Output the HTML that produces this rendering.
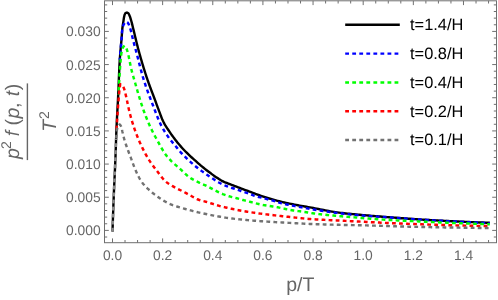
<!DOCTYPE html>
<html><head><meta charset="utf-8"><style>
html,body{margin:0;padding:0;background:#fff;}
svg{display:block;font-family:"Liberation Sans",sans-serif;text-rendering:geometricPrecision;will-change:transform;}
</style></head><body>
<svg width="498" height="300" viewBox="0 0 498 300">
<rect width="498" height="300" fill="#fff"/>
<rect x="104.5" y="0.8" width="392.0" height="241.89999999999998" fill="none" stroke="#6f6f6f" stroke-width="1"/>
<path d="M112.50,242.7 v-4.3 M112.50,0.8 v4.3 M125.03,242.7 v-2.7 M125.03,0.8 v2.7 M137.57,242.7 v-2.7 M137.57,0.8 v2.7 M150.11,242.7 v-2.7 M150.11,0.8 v2.7 M162.64,242.7 v-4.3 M162.64,0.8 v4.3 M175.18,242.7 v-2.7 M175.18,0.8 v2.7 M187.71,242.7 v-2.7 M187.71,0.8 v2.7 M200.25,242.7 v-2.7 M200.25,0.8 v2.7 M212.78,242.7 v-4.3 M212.78,0.8 v4.3 M225.31,242.7 v-2.7 M225.31,0.8 v2.7 M237.85,242.7 v-2.7 M237.85,0.8 v2.7 M250.38,242.7 v-2.7 M250.38,0.8 v2.7 M262.92,242.7 v-4.3 M262.92,0.8 v4.3 M275.45,242.7 v-2.7 M275.45,0.8 v2.7 M287.99,242.7 v-2.7 M287.99,0.8 v2.7 M300.52,242.7 v-2.7 M300.52,0.8 v2.7 M313.06,242.7 v-4.3 M313.06,0.8 v4.3 M325.60,242.7 v-2.7 M325.60,0.8 v2.7 M338.13,242.7 v-2.7 M338.13,0.8 v2.7 M350.66,242.7 v-2.7 M350.66,0.8 v2.7 M363.20,242.7 v-4.3 M363.20,0.8 v4.3 M375.74,242.7 v-2.7 M375.74,0.8 v2.7 M388.27,242.7 v-2.7 M388.27,0.8 v2.7 M400.81,242.7 v-2.7 M400.81,0.8 v2.7 M413.34,242.7 v-4.3 M413.34,0.8 v4.3 M425.88,242.7 v-2.7 M425.88,0.8 v2.7 M438.41,242.7 v-2.7 M438.41,0.8 v2.7 M450.94,242.7 v-2.7 M450.94,0.8 v2.7 M463.48,242.7 v-4.3 M463.48,0.8 v4.3 M476.02,242.7 v-2.7 M476.02,0.8 v2.7 M488.55,242.7 v-2.7 M488.55,0.8 v2.7 M104.5,237.03 h2.7 M496.5,237.03 h-2.7 M104.5,230.40 h4.3 M496.5,230.40 h-4.3 M104.5,223.77 h2.7 M496.5,223.77 h-2.7 M104.5,217.13 h2.7 M496.5,217.13 h-2.7 M104.5,210.50 h2.7 M496.5,210.50 h-2.7 M104.5,203.87 h2.7 M496.5,203.87 h-2.7 M104.5,197.24 h4.3 M496.5,197.24 h-4.3 M104.5,190.60 h2.7 M496.5,190.60 h-2.7 M104.5,183.97 h2.7 M496.5,183.97 h-2.7 M104.5,177.34 h2.7 M496.5,177.34 h-2.7 M104.5,170.70 h2.7 M496.5,170.70 h-2.7 M104.5,164.07 h4.3 M496.5,164.07 h-4.3 M104.5,157.44 h2.7 M496.5,157.44 h-2.7 M104.5,150.80 h2.7 M496.5,150.80 h-2.7 M104.5,144.17 h2.7 M496.5,144.17 h-2.7 M104.5,137.54 h2.7 M496.5,137.54 h-2.7 M104.5,130.91 h4.3 M496.5,130.91 h-4.3 M104.5,124.27 h2.7 M496.5,124.27 h-2.7 M104.5,117.64 h2.7 M496.5,117.64 h-2.7 M104.5,111.01 h2.7 M496.5,111.01 h-2.7 M104.5,104.37 h2.7 M496.5,104.37 h-2.7 M104.5,97.74 h4.3 M496.5,97.74 h-4.3 M104.5,91.11 h2.7 M496.5,91.11 h-2.7 M104.5,84.47 h2.7 M496.5,84.47 h-2.7 M104.5,77.84 h2.7 M496.5,77.84 h-2.7 M104.5,71.21 h2.7 M496.5,71.21 h-2.7 M104.5,64.57 h4.3 M496.5,64.57 h-4.3 M104.5,57.94 h2.7 M496.5,57.94 h-2.7 M104.5,51.31 h2.7 M496.5,51.31 h-2.7 M104.5,44.68 h2.7 M496.5,44.68 h-2.7 M104.5,38.04 h2.7 M496.5,38.04 h-2.7 M104.5,31.41 h4.3 M496.5,31.41 h-4.3 M104.5,24.78 h2.7 M496.5,24.78 h-2.7 M104.5,18.14 h2.7 M496.5,18.14 h-2.7 M104.5,11.51 h2.7 M496.5,11.51 h-2.7 M104.5,4.88 h2.7 M496.5,4.88 h-2.7" fill="none" stroke="#6f6f6f" stroke-width="1"/>
<path d="M112.50,231.60 L112.55,229.86 L112.61,228.13 L112.67,226.39 L112.72,224.65 L112.78,222.91 L112.84,221.18 L112.90,219.44 L112.96,217.70 L113.02,215.97 L113.08,214.23 L113.14,212.49 L113.20,210.75 L113.27,209.02 L113.33,207.28 L113.39,205.54 L113.46,203.81 L113.53,202.07 L113.59,200.33 L113.66,198.60 L113.73,196.86 L113.80,195.12 L113.86,193.39 L113.94,191.65 L114.01,189.91 L114.09,188.18 L114.16,186.44 L114.24,184.71 L114.32,182.97 L114.40,181.23 L114.48,179.50 L114.56,177.76 L114.65,176.02 L114.73,174.29 L114.81,172.55 L114.89,170.82 L114.97,169.08 L115.05,167.34 L115.12,165.61 L115.20,163.87 L115.27,162.13 L115.34,160.40 L115.41,158.66 L115.48,156.92 L115.54,155.19 L115.61,153.45 L115.67,151.71 L115.73,149.98 L115.78,148.24 L115.84,146.50 L115.90,144.76 L115.96,143.03 L116.01,141.29 L116.07,139.55 L116.13,137.82 L116.19,136.08 L116.25,134.34 L116.32,132.61 L116.38,130.87 L116.45,129.13 L116.53,127.40 L116.60,125.66 L116.68,123.92 L116.76,122.19 L116.85,120.45 L116.94,118.72 L117.03,116.98 L117.12,115.24 L117.22,113.51 L117.31,111.77 L117.41,110.04 L117.50,108.30 L117.60,106.57 L117.69,104.83 L117.79,103.10 L117.88,101.36 L117.97,99.62 L118.06,97.89 L118.14,96.15 L118.23,94.42 L118.31,92.68 L118.38,90.94 L118.46,89.21 L118.53,87.47 L118.60,85.73 L118.67,84.00 L118.74,82.26 L118.80,80.52 L118.87,78.79 L118.94,77.05 L119.01,75.31 L119.08,73.57 L119.16,71.84 L119.23,70.10 L119.31,68.37 L119.40,66.63 L119.48,64.89 L119.58,63.16 L119.68,61.43 L119.78,59.69 L119.90,57.96 L120.03,56.23 L120.16,54.49 L120.31,52.76 L120.46,51.03 L120.61,49.30 L120.77,47.57 L120.93,45.84 L121.09,44.10 L121.25,42.37 L121.40,40.64 L121.55,38.91 L121.69,37.18 L121.81,35.44 L121.93,33.71 L122.05,31.97 L122.19,30.24 L122.35,28.51 L122.56,26.79 L122.81,25.07 L123.08,23.35 L123.36,21.63 L123.61,19.89 L123.86,18.14 L124.18,16.43 L124.60,14.79 L125.41,13.17 L126.92,12.50 L128.39,13.30 L129.24,14.88 L129.89,16.47 L130.45,18.13 L130.95,19.80 L131.44,21.48 L131.88,23.15 L132.30,24.84 L132.71,26.53 L133.11,28.23 L133.53,29.91 L133.94,31.60 L134.35,33.29 L134.76,34.98 L135.16,36.67 L135.57,38.36 L135.98,40.05 L136.39,41.74 L136.81,43.43 L137.23,45.11 L137.66,46.80 L138.09,48.48 L138.54,50.16 L139.00,51.83 L139.46,53.51 L139.93,55.18 L140.40,56.86 L140.88,58.53 L141.36,60.20 L141.85,61.87 L142.34,63.53 L142.84,65.20 L143.35,66.86 L143.86,68.53 L144.38,70.19 L144.90,71.84 L145.43,73.50 L145.96,75.15 L146.50,76.80 L147.05,78.45 L147.61,80.10 L148.18,81.73 L148.77,83.37 L149.36,85.00 L149.96,86.63 L150.57,88.26 L151.18,89.89 L151.80,91.52 L152.42,93.14 L153.04,94.77 L153.65,96.39 L154.26,98.02 L154.87,99.65 L155.47,101.28 L156.07,102.91 L156.67,104.55 L157.26,106.18 L157.87,107.81 L158.48,109.43 L159.10,111.06 L159.71,112.69 L160.32,114.33 L160.93,115.97 L161.56,117.59 L162.22,119.20 L162.92,120.78 L163.66,122.33 L164.48,123.85 L165.35,125.35 L166.27,126.83 L167.22,128.30 L168.19,129.75 L169.16,131.20 L170.13,132.64 L171.12,134.07 L172.13,135.48 L173.16,136.89 L174.19,138.29 L175.25,139.67 L176.31,141.04 L177.39,142.41 L178.49,143.75 L179.61,145.08 L180.75,146.39 L181.91,147.69 L183.08,148.97 L184.28,150.23 L185.49,151.49 L186.71,152.72 L187.94,153.95 L189.19,155.15 L190.46,156.33 L191.75,157.50 L193.05,158.66 L194.35,159.82 L195.64,160.98 L196.94,162.14 L198.24,163.29 L199.54,164.44 L200.86,165.58 L202.19,166.69 L203.54,167.79 L204.90,168.87 L206.27,169.93 L207.66,170.99 L209.04,172.03 L210.43,173.08 L211.83,174.12 L213.23,175.15 L214.64,176.16 L216.07,177.15 L217.52,178.12 L218.98,179.08 L220.46,180.00 L221.97,180.83 L223.51,181.59 L225.09,182.30 L226.68,182.97 L228.30,183.62 L229.93,184.24 L231.56,184.84 L233.21,185.44 L234.85,186.04 L236.48,186.65 L238.11,187.27 L239.73,187.89 L241.35,188.52 L242.98,189.14 L244.60,189.76 L246.22,190.38 L247.85,190.99 L249.48,191.60 L251.11,192.21 L252.73,192.83 L254.36,193.44 L255.99,194.06 L257.62,194.66 L259.25,195.25 L260.89,195.82 L262.54,196.38 L264.19,196.92 L265.84,197.45 L267.50,197.97 L269.17,198.48 L270.83,198.97 L272.50,199.45 L274.18,199.92 L275.85,200.38 L277.53,200.82 L279.22,201.26 L280.90,201.68 L282.59,202.09 L284.28,202.49 L285.98,202.87 L287.68,203.24 L289.38,203.60 L291.08,203.94 L292.79,204.27 L294.49,204.60 L296.20,204.93 L297.91,205.25 L299.62,205.56 L301.33,205.87 L303.04,206.18 L304.75,206.48 L306.47,206.78 L308.18,207.08 L309.89,207.38 L311.60,207.69 L313.31,208.01 L315.02,208.34 L316.72,208.68 L318.43,209.02 L320.14,209.36 L321.84,209.69 L323.55,210.03 L325.26,210.36 L326.97,210.69 L328.68,211.01 L330.39,211.31 L332.10,211.61 L333.81,211.89 L335.53,212.15 L337.24,212.40 L338.96,212.63 L340.69,212.84 L342.41,213.05 L344.14,213.25 L345.86,213.44 L347.59,213.62 L349.32,213.80 L351.05,213.97 L352.78,214.14 L354.51,214.31 L356.25,214.47 L357.98,214.63 L359.71,214.79 L361.44,214.95 L363.17,215.11 L364.90,215.26 L366.63,215.42 L368.36,215.57 L370.10,215.72 L371.83,215.86 L373.56,216.00 L375.29,216.15 L377.03,216.29 L378.76,216.43 L380.49,216.56 L382.22,216.70 L383.96,216.84 L385.69,216.98 L387.42,217.11 L389.15,217.25 L390.89,217.39 L392.62,217.52 L394.35,217.66 L396.09,217.79 L397.82,217.92 L399.55,218.05 L401.28,218.18 L403.02,218.31 L404.75,218.44 L406.49,218.56 L408.22,218.68 L409.95,218.80 L411.69,218.91 L413.42,219.03 L415.16,219.14 L416.89,219.25 L418.62,219.36 L420.36,219.47 L422.09,219.58 L423.83,219.69 L425.56,219.80 L427.30,219.90 L429.03,220.01 L430.77,220.11 L432.50,220.21 L434.24,220.31 L435.97,220.41 L437.71,220.51 L439.45,220.60 L441.18,220.70 L442.92,220.79 L444.65,220.88 L446.39,220.97 L448.12,221.06 L449.86,221.14 L451.60,221.23 L453.33,221.31 L455.07,221.39 L456.80,221.47 L458.54,221.55 L460.28,221.63 L462.01,221.71 L463.75,221.79 L465.48,221.86 L467.22,221.94 L468.96,222.01 L470.69,222.09 L472.43,222.16 L474.17,222.23 L475.90,222.30 L477.64,222.36 L479.38,222.43 L481.11,222.50 L482.85,222.56 L484.59,222.62 L486.33,222.68 L488.06,222.74 L489.80,222.80" fill="none" stroke="#000000" stroke-width="2.4" stroke-linejoin="round"/>
<path d="M119.77,59.85 L119.88,58.16 L120.01,56.46 L120.14,54.76 L120.28,53.07 L120.43,51.37 L120.58,49.67 L120.73,47.98 L120.89,46.28 L121.05,44.59 L121.20,42.89 L121.35,41.20 L121.50,39.50 L121.64,37.80 L121.76,36.11 L121.87,34.39 L121.97,32.68 L122.09,30.98 L122.26,29.31 L122.56,27.63 L123.08,25.94 L123.78,24.35 L124.64,22.97 L126.00,21.76 L127.43,22.36 L128.46,23.72 L129.15,25.32 L129.72,26.92 L130.24,28.53 L130.71,30.16 L131.14,31.80 L131.55,33.46 L131.94,35.12 L132.33,36.79 L132.72,38.46 L133.12,40.12 L133.54,41.77 L133.98,43.42 L134.42,45.06 L134.87,46.70 L135.31,48.35 L135.76,49.99 L136.20,51.63 L136.64,53.28 L137.07,54.92 L137.50,56.57 L137.92,58.22 L138.34,59.88 L138.76,61.53 L139.18,63.18 L139.60,64.83 L140.02,66.48 L140.45,68.13 L140.88,69.78 L141.33,71.42 L141.77,73.06 L142.23,74.70 L142.70,76.33 L143.18,77.96 L143.68,79.58 L144.19,81.20 L144.71,82.82 L145.25,84.43 L145.79,86.04 L146.35,87.65 L146.92,89.26 L147.49,90.86 L148.07,92.46 L148.66,94.06 L149.26,95.66 L149.86,97.25 L150.46,98.84 L151.07,100.44 L151.69,102.03 L152.30,103.62 L152.92,105.20 L153.53,106.79 L154.15,108.38 L154.76,109.97 L155.36,111.56 L155.97,113.16 L156.59,114.75 L157.21,116.34 L157.85,117.93 L158.50,119.50 L159.17,121.07 L159.86,122.62 L160.58,124.15 L161.33,125.66 L162.12,127.16 L162.95,128.64 L163.82,130.12 L164.71,131.58 L165.62,133.02 L166.56,134.45 L167.51,135.86 L168.48,137.25 L169.48,138.62 L170.52,139.97 L171.59,141.29 L172.68,142.61 L173.77,143.92 L174.86,145.23 L175.94,146.54 L177.01,147.87 L178.09,149.20 L179.17,150.51 L180.28,151.80 L181.42,153.05 L182.59,154.28 L183.77,155.50 L184.97,156.71 L186.19,157.91 L187.42,159.09 L188.67,160.26 L189.92,161.42 L191.19,162.56 L192.47,163.68 L193.76,164.79 L195.06,165.88 L196.37,166.96 L197.70,168.02 L199.04,169.06 L200.40,170.09 L201.77,171.11 L203.15,172.11 L204.54,173.10 L205.94,174.08 L207.34,175.05 L208.75,176.00 L210.16,176.95 L211.58,177.90 L213.00,178.84 L214.43,179.78 L215.87,180.70 L217.33,181.60 L218.80,182.46 L220.28,183.28 L221.79,184.05 L223.32,184.76 L224.88,185.44 L226.47,186.07 L228.07,186.67 L229.67,187.23 L231.29,187.75 L232.93,188.23 L234.56,188.73 L236.17,189.26 L237.77,189.84 L239.37,190.44 L240.96,191.04 L242.57,191.59 L244.19,192.10 L245.82,192.60 L247.45,193.11 L249.05,193.67 L250.64,194.30 L252.22,194.94 L253.80,195.56 L255.41,196.10 L257.05,196.56 L258.70,196.98 L260.35,197.38 L262.00,197.80 L263.65,198.24 L265.29,198.69 L266.93,199.13 L268.58,199.57 L270.23,199.99 L271.88,200.40 L273.53,200.82 L275.17,201.26 L276.80,201.76 L278.42,202.31 L280.03,202.84 L281.67,203.30 L283.32,203.71 L284.97,204.10 L286.63,204.46 L288.30,204.82 L289.97,205.16 L291.64,205.49 L293.31,205.82 L294.99,206.14 L296.66,206.47 L298.33,206.78 L300.00,207.09 L301.68,207.40 L303.35,207.70 L305.03,207.99 L306.70,208.29 L308.38,208.59 L310.05,208.89 L311.73,209.20 L313.40,209.50 L315.08,209.78 L316.76,210.04 L318.45,210.31 L320.13,210.57 L321.81,210.82 L323.50,211.07 L325.18,211.31 L326.87,211.55 L328.55,211.78 L330.24,212.01 L331.93,212.24 L333.62,212.46 L335.30,212.67 L336.99,212.88 L338.68,213.08 L340.37,213.28 L342.06,213.48 L343.75,213.67 L345.44,213.86 L347.14,214.05 L348.83,214.23 L350.52,214.41 L352.22,214.59 L353.91,214.76 L355.60,214.92 L357.30,215.08 L358.99,215.24 L360.69,215.39 L362.38,215.53 L364.08,215.67 L365.78,215.80 L367.47,215.93 L369.17,216.06 L370.87,216.18 L372.57,216.29 L374.26,216.41 L375.96,216.52 L377.66,216.63 L379.36,216.75 L381.06,216.86 L382.76,216.98 L384.46,217.09 L386.15,217.21 L387.85,217.33 L389.55,217.45 L391.25,217.58 L392.94,217.70 L394.64,217.82 L396.34,217.95 L398.04,218.07 L399.73,218.19 L401.43,218.31 L403.13,218.43 L404.83,218.55 L406.53,218.67 L408.22,218.78 L409.92,218.89 L411.62,219.00 L413.32,219.11 L415.02,219.22 L416.72,219.33 L418.41,219.43 L420.11,219.54 L421.81,219.64 L423.51,219.75 L425.21,219.85 L426.91,219.95 L428.61,220.05 L430.31,220.15 L432.01,220.25 L433.71,220.35 L435.41,220.45 L437.10,220.54 L438.80,220.64 L440.50,220.74 L442.20,220.83 L443.90,220.92 L445.60,221.02 L447.30,221.11 L449.00,221.20 L450.70,221.29 L452.40,221.38 L454.10,221.47 L455.80,221.56 L457.50,221.65 L459.20,221.74 L460.90,221.82 L462.60,221.91 L464.30,222.00 L466.00,222.08 L467.70,222.17 L469.40,222.25 L471.10,222.33 L472.80,222.41 L474.50,222.50 L476.20,222.58 L477.90,222.66 L479.60,222.74 L481.30,222.82 L483.00,222.89 L484.70,222.97 L486.40,223.05 L488.10,223.12 L489.80,223.20" fill="none" stroke="#0000ff" stroke-width="2.45" stroke-linejoin="round" stroke-dasharray="3.8 3.25" stroke-dashoffset="1.70"/>
<path d="M118.43,94.53 L118.52,92.92 L118.62,91.31 L118.71,89.70 L118.81,88.09 L118.90,86.48 L118.99,84.86 L119.08,83.25 L119.18,81.64 L119.27,80.03 L119.37,78.42 L119.47,76.81 L119.57,75.19 L119.67,73.58 L119.77,71.97 L119.88,70.36 L119.99,68.75 L120.11,67.14 L120.23,65.53 L120.36,63.93 L120.49,62.32 L120.62,60.71 L120.76,59.10 L120.91,57.48 L121.07,55.87 L121.26,54.27 L121.49,52.68 L121.77,51.09 L122.16,49.47 L122.70,47.94 L123.51,46.50 L124.69,45.75 L125.77,47.08 L126.48,48.52 L127.03,50.06 L127.50,51.63 L127.92,53.18 L128.31,54.74 L128.67,56.31 L129.01,57.89 L129.33,59.47 L129.64,61.06 L129.95,62.65 L130.25,64.24 L130.57,65.83 L130.90,67.41 L131.26,68.98 L131.64,70.55 L132.04,72.11 L132.47,73.67 L132.91,75.22 L133.36,76.77 L133.81,78.32 L134.26,79.87 L134.71,81.42 L135.16,82.98 L135.60,84.53 L136.05,86.08 L136.49,87.64 L136.94,89.19 L137.38,90.74 L137.83,92.30 L138.29,93.85 L138.75,95.40 L139.21,96.94 L139.68,98.49 L140.15,100.03 L140.63,101.57 L141.12,103.11 L141.62,104.64 L142.13,106.17 L142.65,107.70 L143.18,109.22 L143.72,110.73 L144.27,112.25 L144.83,113.76 L145.41,115.27 L146.00,116.78 L146.60,118.28 L147.21,119.78 L147.83,121.27 L148.46,122.76 L149.11,124.24 L149.76,125.72 L150.42,127.18 L151.10,128.64 L151.80,130.09 L152.52,131.54 L153.26,132.97 L154.02,134.40 L154.79,135.82 L155.57,137.24 L156.35,138.65 L157.14,140.06 L157.92,141.48 L158.69,142.90 L159.47,144.33 L160.25,145.75 L161.04,147.17 L161.84,148.58 L162.66,149.98 L163.50,151.36 L164.36,152.72 L165.26,154.05 L166.18,155.34 L167.16,156.61 L168.21,157.84 L169.30,159.04 L170.42,160.21 L171.56,161.36 L172.72,162.47 L173.91,163.55 L175.13,164.62 L176.36,165.67 L177.59,166.72 L178.82,167.77 L180.03,168.83 L181.23,169.92 L182.41,171.05 L183.58,172.18 L184.75,173.31 L185.94,174.42 L187.14,175.50 L188.38,176.52 L189.65,177.46 L190.98,178.33 L192.37,179.14 L193.79,179.91 L195.25,180.64 L196.71,181.36 L198.16,182.08 L199.61,182.78 L201.08,183.45 L202.55,184.12 L204.02,184.78 L205.49,185.46 L206.94,186.16 L208.39,186.88 L209.82,187.63 L211.25,188.39 L212.68,189.15 L214.11,189.91 L215.54,190.67 L216.98,191.41 L218.42,192.14 L219.88,192.83 L221.34,193.49 L222.82,194.11 L224.32,194.69 L225.84,195.23 L227.38,195.73 L228.92,196.21 L230.47,196.66 L232.03,197.08 L233.60,197.47 L235.17,197.85 L236.73,198.25 L238.28,198.69 L239.83,199.14 L241.38,199.59 L242.94,200.03 L244.50,200.44 L246.06,200.84 L247.63,201.23 L249.19,201.62 L250.76,202.02 L252.32,202.43 L253.88,202.84 L255.44,203.24 L257.01,203.63 L258.58,204.00 L260.15,204.38 L261.73,204.73 L263.31,205.05 L264.90,205.32 L266.49,205.56 L268.09,205.79 L269.69,206.02 L271.29,206.27 L272.88,206.51 L274.48,206.76 L276.07,207.02 L277.66,207.30 L279.24,207.61 L280.82,207.95 L282.40,208.30 L283.98,208.66 L285.55,209.01 L287.13,209.36 L288.71,209.68 L290.29,209.98 L291.88,210.24 L293.48,210.48 L295.08,210.70 L296.68,210.91 L298.28,211.11 L299.88,211.31 L301.49,211.52 L303.09,211.74 L304.68,211.97 L306.28,212.23 L307.87,212.51 L309.46,212.78 L311.05,213.06 L312.64,213.31 L314.24,213.53 L315.84,213.74 L317.44,213.93 L319.04,214.12 L320.65,214.30 L322.25,214.48 L323.86,214.65 L325.46,214.81 L327.07,214.97 L328.68,215.13 L330.28,215.28 L331.89,215.43 L333.50,215.58 L335.11,215.73 L336.72,215.88 L338.32,216.03 L339.93,216.18 L341.54,216.32 L343.15,216.46 L344.75,216.60 L346.36,216.74 L347.97,216.87 L349.58,217.01 L351.19,217.14 L352.80,217.27 L354.41,217.40 L356.01,217.53 L357.62,217.65 L359.23,217.78 L360.84,217.91 L362.45,218.04 L364.06,218.16 L365.67,218.29 L367.28,218.42 L368.89,218.55 L370.50,218.68 L372.11,218.81 L373.71,218.93 L375.32,219.06 L376.93,219.18 L378.54,219.30 L380.15,219.42 L381.76,219.53 L383.37,219.64 L384.98,219.74 L386.60,219.84 L388.21,219.93 L389.82,220.02 L391.43,220.11 L393.04,220.19 L394.65,220.27 L396.27,220.35 L397.88,220.43 L399.49,220.51 L401.10,220.58 L402.72,220.66 L404.33,220.73 L405.94,220.81 L407.55,220.88 L409.16,220.96 L410.78,221.04 L412.39,221.12 L414.00,221.19 L415.61,221.27 L417.23,221.35 L418.84,221.43 L420.45,221.50 L422.06,221.58 L423.68,221.66 L425.29,221.74 L426.90,221.81 L428.51,221.89 L430.12,221.96 L431.74,222.04 L433.35,222.11 L434.96,222.19 L436.57,222.26 L438.19,222.33 L439.80,222.41 L441.41,222.48 L443.02,222.55 L444.64,222.62 L446.25,222.69 L447.86,222.75 L449.47,222.82 L451.09,222.89 L452.70,222.95 L454.31,223.02 L455.93,223.08 L457.54,223.14 L459.15,223.21 L460.76,223.27 L462.38,223.33 L463.99,223.39 L465.60,223.45 L467.22,223.51 L468.83,223.57 L470.44,223.63 L472.05,223.69 L473.67,223.75 L475.28,223.81 L476.89,223.87 L478.51,223.92 L480.12,223.98 L481.73,224.03 L483.35,224.09 L484.96,224.14 L486.57,224.20 L488.19,224.25 L489.80,224.30" fill="none" stroke="#00ff00" stroke-width="2.45" stroke-linejoin="round" stroke-dasharray="3.8 3.25" stroke-dashoffset="3.25"/>
<path d="M116.53,131.52 L116.60,130.05 L116.67,128.58 L116.75,127.11 L116.82,125.64 L116.90,124.17 L116.99,122.70 L117.07,121.23 L117.16,119.76 L117.25,118.29 L117.34,116.82 L117.44,115.35 L117.54,113.88 L117.63,112.41 L117.74,110.94 L117.84,109.47 L117.94,108.00 L118.05,106.53 L118.16,105.06 L118.27,103.59 L118.39,102.13 L118.51,100.66 L118.63,99.19 L118.76,97.72 L118.89,96.25 L119.02,94.79 L119.15,93.32 L119.27,91.85 L119.41,90.38 L119.58,88.92 L119.78,87.40 L120.01,85.53 L120.37,84.27 L121.35,84.60 L122.56,85.61 L123.32,86.87 L123.92,88.28 L124.40,89.65 L124.81,91.06 L125.18,92.49 L125.52,93.94 L125.85,95.38 L126.19,96.82 L126.52,98.25 L126.82,99.69 L127.12,101.14 L127.41,102.58 L127.70,104.03 L128.00,105.47 L128.30,106.91 L128.61,108.35 L128.95,109.78 L129.30,111.21 L129.66,112.64 L130.03,114.07 L130.40,115.49 L130.79,116.92 L131.19,118.34 L131.60,119.75 L132.01,121.17 L132.44,122.58 L132.88,123.98 L133.32,125.38 L133.78,126.78 L134.25,128.18 L134.74,129.57 L135.23,130.96 L135.74,132.34 L136.26,133.73 L136.80,135.10 L137.34,136.47 L137.89,137.84 L138.46,139.19 L139.03,140.54 L139.62,141.89 L140.22,143.24 L140.83,144.58 L141.45,145.92 L142.09,147.26 L142.74,148.59 L143.40,149.91 L144.07,151.23 L144.76,152.53 L145.45,153.83 L146.17,155.12 L146.89,156.40 L147.62,157.67 L148.38,158.92 L149.15,160.16 L149.96,161.39 L150.79,162.61 L151.63,163.82 L152.50,165.02 L153.37,166.21 L154.26,167.40 L155.15,168.57 L156.05,169.74 L156.94,170.91 L157.83,172.10 L158.72,173.30 L159.62,174.50 L160.53,175.70 L161.45,176.88 L162.39,178.02 L163.36,179.13 L164.36,180.20 L165.39,181.20 L166.46,182.14 L167.60,183.01 L168.79,183.85 L170.04,184.64 L171.32,185.40 L172.62,186.14 L173.93,186.87 L175.23,187.58 L176.52,188.29 L177.83,188.96 L179.15,189.62 L180.48,190.26 L181.81,190.90 L183.13,191.55 L184.43,192.23 L185.73,192.93 L187.02,193.65 L188.30,194.37 L189.59,195.08 L190.89,195.79 L192.17,196.52 L193.46,197.27 L194.75,197.99 L196.06,198.66 L197.39,199.26 L198.75,199.77 L200.15,200.21 L201.57,200.61 L203.00,200.99 L204.43,201.36 L205.86,201.76 L207.27,202.18 L208.68,202.61 L210.09,203.05 L211.49,203.50 L212.90,203.95 L214.30,204.39 L215.71,204.83 L217.12,205.26 L218.53,205.67 L219.95,206.07 L221.37,206.44 L222.80,206.79 L224.22,207.14 L225.66,207.47 L227.09,207.80 L228.53,208.13 L229.97,208.44 L231.41,208.76 L232.85,209.06 L234.30,209.36 L235.74,209.65 L237.19,209.94 L238.64,210.22 L240.09,210.49 L241.54,210.75 L242.99,211.01 L244.44,211.26 L245.90,211.50 L247.35,211.74 L248.80,211.97 L250.25,212.19 L251.71,212.41 L253.16,212.62 L254.62,212.83 L256.08,213.04 L257.54,213.24 L258.99,213.43 L260.45,213.62 L261.92,213.81 L263.38,214.00 L264.84,214.18 L266.30,214.36 L267.76,214.54 L269.23,214.71 L270.69,214.88 L272.16,215.05 L273.62,215.22 L275.09,215.39 L276.55,215.55 L278.02,215.71 L279.48,215.87 L280.95,216.03 L282.41,216.19 L283.88,216.35 L285.34,216.50 L286.81,216.66 L288.27,216.82 L289.74,216.97 L291.20,217.13 L292.67,217.29 L294.13,217.44 L295.60,217.60 L297.06,217.76 L298.53,217.91 L299.99,218.07 L301.46,218.22 L302.92,218.36 L304.39,218.51 L305.86,218.65 L307.32,218.78 L308.79,218.91 L310.26,219.03 L311.73,219.14 L313.20,219.25 L314.66,219.34 L316.13,219.43 L317.60,219.52 L319.07,219.60 L320.54,219.68 L322.01,219.76 L323.49,219.83 L324.96,219.90 L326.43,219.97 L327.90,220.03 L329.37,220.10 L330.84,220.17 L332.32,220.23 L333.79,220.30 L335.26,220.37 L336.73,220.44 L338.20,220.51 L339.67,220.58 L341.14,220.66 L342.62,220.73 L344.09,220.80 L345.56,220.88 L347.03,220.95 L348.50,221.03 L349.97,221.10 L351.44,221.17 L352.91,221.25 L354.38,221.32 L355.86,221.39 L357.33,221.47 L358.80,221.54 L360.27,221.61 L361.74,221.69 L363.21,221.76 L364.68,221.84 L366.15,221.91 L367.62,221.99 L369.09,222.06 L370.57,222.14 L372.04,222.21 L373.51,222.29 L374.98,222.36 L376.45,222.44 L377.92,222.51 L379.39,222.59 L380.86,222.66 L382.33,222.73 L383.81,222.80 L385.28,222.87 L386.75,222.93 L388.22,223.00 L389.69,223.07 L391.16,223.13 L392.63,223.20 L394.11,223.26 L395.58,223.32 L397.05,223.38 L398.52,223.45 L399.99,223.51 L401.46,223.57 L402.94,223.63 L404.41,223.68 L405.88,223.74 L407.35,223.80 L408.82,223.86 L410.29,223.91 L411.77,223.97 L413.24,224.02 L414.71,224.08 L416.18,224.13 L417.65,224.18 L419.13,224.24 L420.60,224.29 L422.07,224.34 L423.54,224.40 L425.01,224.45 L426.49,224.50 L427.96,224.55 L429.43,224.60 L430.90,224.65 L432.37,224.70 L433.85,224.75 L435.32,224.80 L436.79,224.84 L438.26,224.89 L439.74,224.93 L441.21,224.98 L442.68,225.02 L444.15,225.07 L445.62,225.11 L447.10,225.15 L448.57,225.19 L450.04,225.23 L451.51,225.27 L452.99,225.30 L454.46,225.34 L455.93,225.38 L457.40,225.42 L458.88,225.45 L460.35,225.49 L461.82,225.53 L463.29,225.56 L464.77,225.60 L466.24,225.63 L467.71,225.66 L469.18,225.70 L470.66,225.73 L472.13,225.76 L473.60,225.79 L475.07,225.83 L476.55,225.86 L478.02,225.89 L479.49,225.91 L480.96,225.94 L482.44,225.97 L483.91,226.00 L485.38,226.02 L486.85,226.05 L488.33,226.08 L489.80,226.10" fill="none" stroke="#ff0000" stroke-width="2.45" stroke-linejoin="round" stroke-dasharray="3.8 3.25" stroke-dashoffset="4.96"/>
<path d="M116.16,139.03 L116.23,137.71 L116.31,136.39 L116.40,135.07 L116.50,133.75 L116.62,132.43 L116.78,131.10 L116.97,129.79 L117.20,128.51 L117.52,127.18 L118.00,125.92 L118.78,124.86 L119.87,124.49 L120.76,125.63 L121.25,126.77 L121.62,128.01 L121.92,129.33 L122.19,130.68 L122.48,132.01 L122.80,133.29 L123.12,134.58 L123.43,135.87 L123.74,137.15 L124.07,138.44 L124.42,139.71 L124.79,140.98 L125.18,142.24 L125.59,143.50 L126.01,144.75 L126.44,146.00 L126.89,147.25 L127.34,148.49 L127.80,149.73 L128.27,150.98 L128.73,152.22 L129.20,153.46 L129.67,154.70 L130.14,155.93 L130.60,157.17 L131.06,158.42 L131.51,159.66 L131.97,160.91 L132.42,162.15 L132.88,163.40 L133.35,164.64 L133.82,165.88 L134.30,167.12 L134.79,168.34 L135.30,169.57 L135.82,170.78 L136.35,171.98 L136.91,173.18 L137.48,174.38 L138.06,175.59 L138.67,176.78 L139.30,177.97 L139.95,179.13 L140.63,180.25 L141.34,181.35 L142.09,182.39 L142.88,183.42 L143.71,184.43 L144.58,185.43 L145.48,186.40 L146.41,187.36 L147.37,188.31 L148.35,189.23 L149.35,190.14 L150.36,191.02 L151.38,191.89 L152.41,192.73 L153.43,193.56 L154.46,194.36 L155.50,195.16 L156.56,195.95 L157.63,196.73 L158.72,197.51 L159.82,198.27 L160.94,199.01 L162.07,199.74 L163.21,200.45 L164.36,201.13 L165.52,201.78 L166.68,202.41 L167.86,203.01 L169.04,203.57 L170.23,204.10 L171.43,204.59 L172.65,205.07 L173.89,205.52 L175.15,205.95 L176.41,206.36 L177.68,206.76 L178.96,207.14 L180.24,207.52 L181.52,207.89 L182.80,208.26 L184.07,208.62 L185.34,208.98 L186.62,209.34 L187.89,209.69 L189.17,210.04 L190.45,210.38 L191.73,210.71 L193.01,211.04 L194.30,211.37 L195.58,211.68 L196.87,212.00 L198.16,212.30 L199.45,212.60 L200.74,212.89 L202.03,213.18 L203.32,213.46 L204.62,213.73 L205.91,214.00 L207.21,214.27 L208.50,214.54 L209.80,214.80 L211.10,215.06 L212.40,215.32 L213.70,215.58 L215.00,215.83 L216.30,216.08 L217.61,216.32 L218.91,216.55 L220.22,216.78 L221.52,217.01 L222.83,217.23 L224.14,217.44 L225.44,217.64 L226.75,217.83 L228.06,218.02 L229.37,218.19 L230.68,218.36 L231.99,218.52 L233.30,218.67 L234.61,218.82 L235.93,218.97 L237.24,219.11 L238.56,219.25 L239.87,219.39 L241.19,219.52 L242.51,219.65 L243.82,219.78 L245.14,219.90 L246.46,220.02 L247.78,220.14 L249.10,220.25 L250.42,220.36 L251.74,220.47 L253.06,220.58 L254.38,220.69 L255.70,220.79 L257.02,220.89 L258.34,220.99 L259.67,221.09 L260.99,221.19 L262.31,221.28 L263.63,221.37 L264.95,221.47 L266.27,221.55 L267.59,221.64 L268.91,221.73 L270.23,221.81 L271.55,221.89 L272.87,221.97 L274.19,222.04 L275.51,222.12 L276.83,222.19 L278.15,222.27 L279.48,222.34 L280.80,222.41 L282.12,222.48 L283.44,222.55 L284.76,222.62 L286.08,222.69 L287.41,222.76 L288.73,222.83 L290.05,222.90 L291.37,222.97 L292.69,223.05 L294.01,223.12 L295.33,223.19 L296.66,223.26 L297.98,223.33 L299.30,223.41 L300.62,223.48 L301.94,223.55 L303.26,223.62 L304.59,223.68 L305.91,223.75 L307.23,223.81 L308.55,223.87 L309.87,223.93 L311.20,223.99 L312.52,224.04 L313.84,224.09 L315.16,224.14 L316.48,224.19 L317.81,224.23 L319.13,224.28 L320.45,224.32 L321.77,224.36 L323.10,224.40 L324.42,224.44 L325.74,224.48 L327.07,224.52 L328.39,224.55 L329.71,224.59 L331.04,224.62 L332.36,224.66 L333.68,224.69 L335.00,224.73 L336.33,224.76 L337.65,224.79 L338.97,224.82 L340.30,224.85 L341.62,224.88 L342.94,224.91 L344.27,224.94 L345.59,224.96 L346.91,224.99 L348.23,225.02 L349.56,225.04 L350.88,225.07 L352.20,225.09 L353.53,225.12 L354.85,225.14 L356.17,225.17 L357.50,225.20 L358.82,225.23 L360.14,225.26 L361.47,225.29 L362.79,225.32 L364.11,225.35 L365.43,225.39 L366.76,225.42 L368.08,225.46 L369.40,225.50 L370.73,225.54 L372.05,225.58 L373.37,225.62 L374.69,225.66 L376.02,225.70 L377.34,225.74 L378.66,225.78 L379.99,225.82 L381.31,225.86 L382.63,225.90 L383.95,225.94 L385.28,225.98 L386.60,226.02 L387.92,226.06 L389.24,226.10 L390.57,226.14 L391.89,226.18 L393.21,226.22 L394.54,226.26 L395.86,226.30 L397.18,226.34 L398.50,226.38 L399.83,226.42 L401.15,226.46 L402.47,226.50 L403.80,226.54 L405.12,226.57 L406.44,226.61 L407.76,226.64 L409.09,226.68 L410.41,226.71 L411.73,226.74 L413.06,226.77 L414.38,226.80 L415.70,226.84 L417.02,226.87 L418.35,226.90 L419.67,226.93 L420.99,226.96 L422.32,226.98 L423.64,227.01 L424.96,227.04 L426.29,227.07 L427.61,227.10 L428.93,227.12 L430.26,227.15 L431.58,227.18 L432.90,227.20 L434.23,227.23 L435.55,227.26 L436.87,227.28 L438.19,227.31 L439.52,227.33 L440.84,227.36 L442.16,227.38 L443.49,227.40 L444.81,227.43 L446.13,227.45 L447.46,227.47 L448.78,227.50 L450.10,227.52 L451.43,227.54 L452.75,227.56 L454.07,227.59 L455.40,227.61 L456.72,227.63 L458.04,227.65 L459.37,227.67 L460.69,227.69 L462.01,227.71 L463.33,227.74 L464.66,227.76 L465.98,227.78 L467.30,227.80 L468.63,227.82 L469.95,227.84 L471.27,227.86 L472.60,227.87 L473.92,227.89 L475.24,227.91 L476.57,227.93 L477.89,227.95 L479.21,227.97 L480.54,227.98 L481.86,228.00 L483.18,228.02 L484.51,228.04 L485.83,228.05 L487.15,228.07 L488.48,228.08 L489.80,228.10" fill="none" stroke="#727272" stroke-width="2.4" stroke-linejoin="round" stroke-dasharray="3.8 3.25" stroke-dashoffset="6.54"/>
<path d="M112.50,231.60 L112.54,230.28 L112.58,228.95 L112.63,227.63 L112.67,226.31 L112.71,224.99 L112.75,223.66 L112.80,222.34 L112.84,221.02 L112.89,219.70 L112.93,218.37 L112.98,217.05 L113.03,215.73 L113.07,214.41 L113.12,213.08 L113.17,211.76 L113.21,210.44 L113.26,209.12 L113.31,207.79 L113.36,206.47 L113.41,205.15 L113.46,203.83 L113.51,202.50 L113.56,201.18 L113.61,199.86 L113.66,198.54 L113.71,197.21 L113.76,195.89 L113.82,194.57 L113.87,193.25 L113.92,191.92 L113.98,190.60 L114.04,189.28 L114.09,187.96 L114.15,186.64 L114.21,185.31 L114.27,183.99 L114.33,182.67 L114.39,181.35 L114.45,180.03 L114.51,178.70 L114.57,177.38 L114.63,176.06 L114.69,174.74 L114.75,173.42 L114.81,172.09 L114.87,170.77 L114.93,169.45 L114.99,168.13 L115.05,166.81 L115.11,165.48 L115.17,164.16 L115.23,162.84 L115.29,161.52 L115.35,160.20 L115.41,158.87 L115.46,157.55 L115.51,156.23 L115.56,154.90 L115.60,153.58 L115.65,152.26 L115.69,150.93 L115.74,149.61 L115.78,148.29 L115.82,146.96 L115.87,145.64 L115.92,144.31 L115.97,142.99 L116.03,141.67 L116.09,140.35 L116.16,139.03" fill="none" stroke="#8a8a8a" stroke-width="2.5" stroke-linejoin="round" stroke-dasharray="3.8 3.25" stroke-dashoffset="0.00"/>
<text x="112.50" y="259.7" font-size="13.8" text-anchor="middle" fill="#666666">0.0</text>
<text x="162.64" y="259.7" font-size="13.8" text-anchor="middle" fill="#666666">0.2</text>
<text x="212.78" y="259.7" font-size="13.8" text-anchor="middle" fill="#666666">0.4</text>
<text x="262.92" y="259.7" font-size="13.8" text-anchor="middle" fill="#666666">0.6</text>
<text x="313.06" y="259.7" font-size="13.8" text-anchor="middle" fill="#666666">0.8</text>
<text x="363.20" y="259.7" font-size="13.8" text-anchor="middle" fill="#666666">1.0</text>
<text x="413.34" y="259.7" font-size="13.8" text-anchor="middle" fill="#666666">1.2</text>
<text x="463.48" y="259.7" font-size="13.8" text-anchor="middle" fill="#666666">1.4</text>
<text x="100.6" y="235.40" font-size="13.8" text-anchor="end" fill="#666666">0.000</text>
<text x="100.6" y="202.24" font-size="13.8" text-anchor="end" fill="#666666">0.005</text>
<text x="100.6" y="169.07" font-size="13.8" text-anchor="end" fill="#666666">0.010</text>
<text x="100.6" y="135.91" font-size="13.8" text-anchor="end" fill="#666666">0.015</text>
<text x="100.6" y="102.74" font-size="13.8" text-anchor="end" fill="#666666">0.020</text>
<text x="100.6" y="69.57" font-size="13.8" text-anchor="end" fill="#666666">0.025</text>
<text x="100.6" y="36.41" font-size="13.8" text-anchor="end" fill="#666666">0.030</text>
<text x="300.3" y="290.6" font-size="19.5" text-anchor="middle" fill="#666666">p/T</text>
<g transform="translate(0,121.5) rotate(-90)" fill="#666666"><text x="-37.5" y="18.9" font-size="19.5" font-style="italic">p</text><text x="-27.6" y="11.099999999999998" font-size="14">2</text><text x="-14.8" y="18.9" font-size="19.5" font-style="italic">f</text><text x="-4.0" y="18.9" font-size="19.5">(</text><text x="3.1" y="18.9" font-size="19.5" font-style="italic">p</text><text x="13.4" y="18.9" font-size="19.5">,</text><text x="25.2" y="18.9" font-size="19.5" font-style="italic">t</text><text x="31.3" y="18.9" font-size="19.5">)</text><text x="-10.2" y="56.0" font-size="19.5" font-style="italic">T</text><text x="2.4" y="48.7" font-size="14">2</text><rect x="-38.6" y="26.7" width="76.7" height="1.4" fill="#666666"/></g>
<path d="M345.2,24.80 H399.8" stroke="#000000" stroke-width="2.4"/>
<text x="410" y="30.20" font-size="16.4" fill="#000">t=1.4/H</text>
<path d="M345.2,53.60 H399.8" stroke="#0000ff" stroke-width="2.45" stroke-dasharray="3.8 3.25"/>
<text x="410" y="59.00" font-size="16.4" fill="#000">t=0.8/H</text>
<path d="M345.2,82.40 H399.8" stroke="#00ff00" stroke-width="2.45" stroke-dasharray="3.8 3.25"/>
<text x="410" y="87.80" font-size="16.4" fill="#000">t=0.4/H</text>
<path d="M345.2,111.20 H399.8" stroke="#ff0000" stroke-width="2.45" stroke-dasharray="3.8 3.25"/>
<text x="410" y="116.60" font-size="16.4" fill="#000">t=0.2/H</text>
<path d="M345.2,140.00 H399.8" stroke="#727272" stroke-width="2.4" stroke-dasharray="3.8 3.25"/>
<text x="410" y="145.40" font-size="16.4" fill="#000">t=0.1/H</text>
</svg>
</body></html>
